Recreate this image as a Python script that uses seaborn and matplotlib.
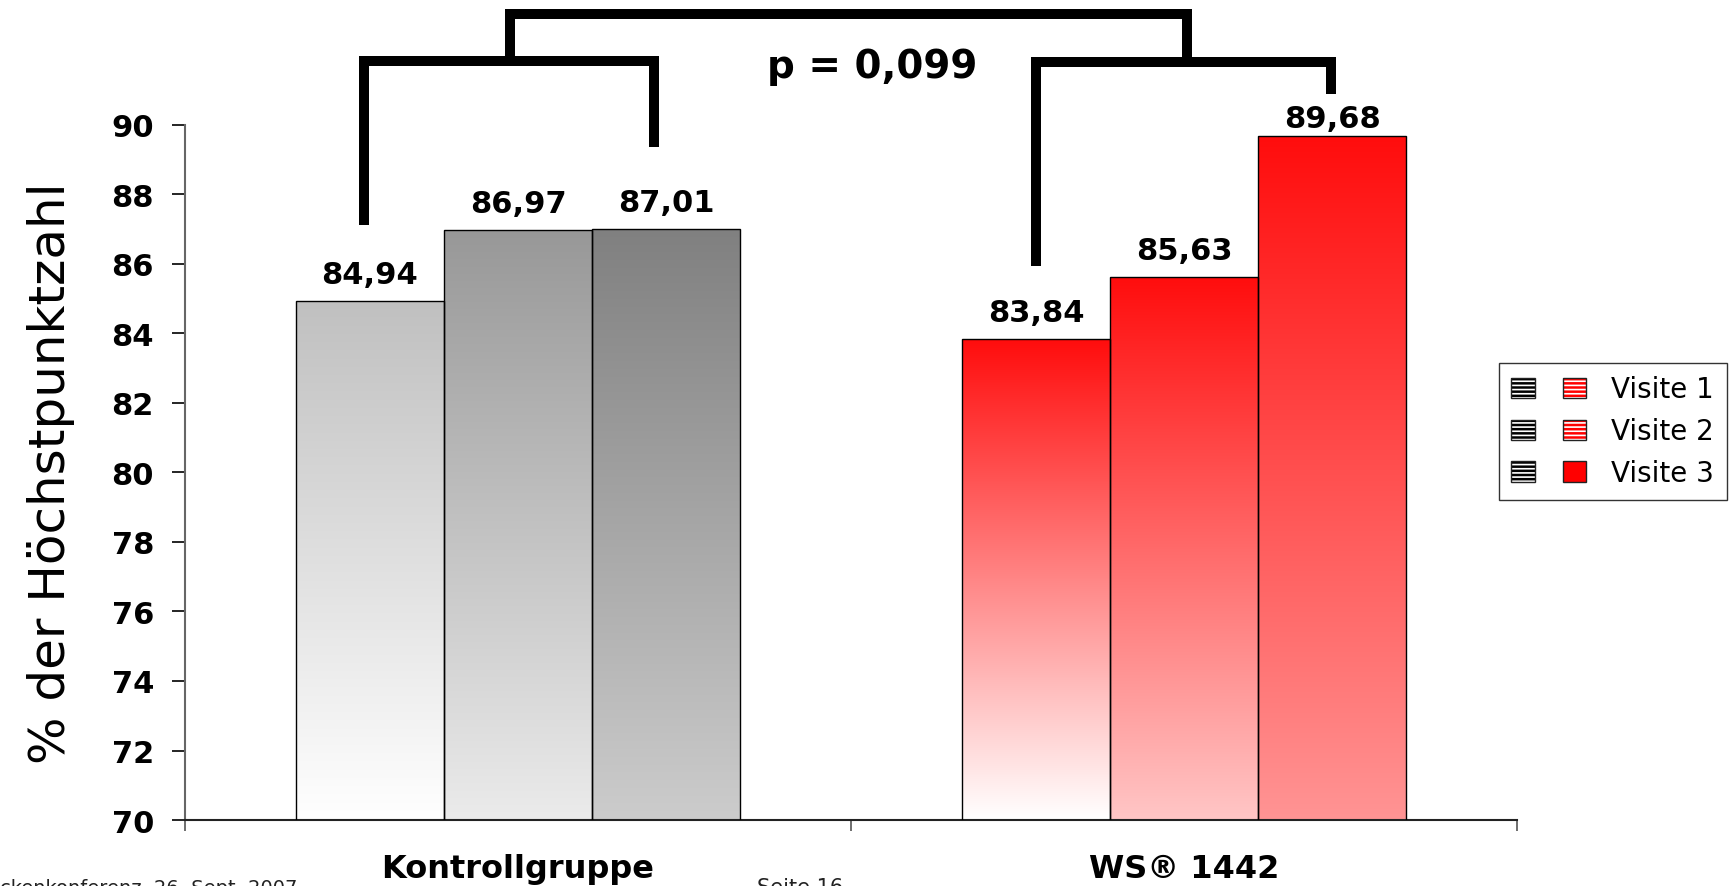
import numpy as np
import pandas as pd
import matplotlib
matplotlib.use("Agg")
import matplotlib.pyplot as plt
import seaborn as sns
from matplotlib.patches import Patch
from matplotlib.legend_handler import HandlerTuple
from matplotlib.colors import to_rgb

# ---------------- data ----------------
groups = ["Kontrollgruppe", "WS® 1442"]
visits = ["Visite 1", "Visite 2", "Visite 3"]
kontroll_values = [84.94, 86.97, 87.01]
ws_values = [83.84, 85.63, 89.68]
y_ticks = [70, 72, 74, 76, 78, 80, 82, 84, 86, 88, 90]
p_text = "p = 0,099"
ylabel = "% der Höchstpunktzahl"
footer_left = "ckenkonferenz, 26. Sept. 2007"
footer_right = "Seite 16"

# ---------------- style ----------------
sns.set_theme(style="ticks")
plt.rcParams["font.family"] = ["DejaVu Sans"]
plt.rcParams["patch.force_edgecolor"] = False
plt.rcParams["hatch.color"] = "white"
plt.rcParams["hatch.linewidth"] = 1.2
for k in ["text.color", "axes.labelcolor", "xtick.color", "ytick.color",
          "xtick.labelcolor", "ytick.labelcolor"]:
    plt.rcParams[k] = "black"

gradients = {
    ("Kontrollgruppe", "Visite 1"): ("#c0c0c0", "#ffffff"),
    ("Kontrollgruppe", "Visite 2"): ("#989898", "#ebebeb"),
    ("Kontrollgruppe", "Visite 3"): ("#808080", "#cccccc"),
    ("WS® 1442", "Visite 1"): ("#ff0d0d", "#ffffff"),
    ("WS® 1442", "Visite 2"): ("#ff0d0d", "#ffc6c6"),
    ("WS® 1442", "Visite 3"): ("#ff0d0d", "#ff9494"),
}

df = pd.DataFrame({
    "Gruppe": [g for g in groups for _ in visits],
    "Visite": visits * len(groups),
    "Wert": kontroll_values + ws_values,
})

fig = plt.figure(figsize=(17.31, 8.87), dpi=100)
ax = fig.add_axes([0.1069, 0.0744, 0.7695, 0.7836])

sns.barplot(data=df, x="Gruppe", y="Wert", hue="Visite", order=groups,
            hue_order=visits, width=0.667, errorbar=None, legend=False,
            edgecolor="black", linewidth=1.0, ax=ax, zorder=3)

YMIN, YMAX = 70, 90
label_offsets = {("WS® 1442", "Visite 3"): 9}
for vi, cont in enumerate(ax.containers):
    for gi, bar in enumerate(cont):
        key = (groups[gi], visits[vi])
        top_c, bot_c = gradients[key]
        grad = np.linspace(np.array(to_rgb(top_c)), np.array(to_rgb(bot_c)), 256)[:, None, :]
        x0 = bar.get_x()
        w = bar.get_width()
        h = bar.get_height()
        im = ax.imshow(grad, extent=[x0, x0 + w, YMIN, h], origin="upper",
                       aspect="auto", zorder=2, interpolation="bilinear")
        im.set_clip_path(bar)
        bar.set_facecolor("none")
        bar.set_zorder(3)
        off = label_offsets.get(key, 18)
        ax.annotate(f"{h:.2f}".replace(".", ","), xy=(x0 + w / 2, h),
                    xytext=(0, off), textcoords="offset pixels",
                    ha="center", va="baseline", fontsize=22,
                    fontweight="bold", color="black", annotation_clip=False)

ax.set_xlim(-0.5, 1.5)
ax.set_ylim(YMIN, YMAX)
ax.set_yticks(y_ticks)
ax.set_yticklabels([str(t) for t in y_ticks], fontsize=22, fontweight="bold",
                   color="black")
ax.tick_params(axis="y", length=9.4, width=1.2, pad=13, color="black")
ax.set_xticks([0, 1])
ax.set_xticklabels(groups, fontsize=23, fontweight="bold", color="black")
ax.tick_params(axis="x", which="major", length=0, pad=24)
ax.set_xticks([-0.5, 0.5, 1.5], minor=True)
ax.tick_params(axis="x", which="minor", length=8, width=1.2, color="#555555")
ax.set_xlabel("")
ax.set_ylabel(ylabel, fontsize=36, color="black")
ax.yaxis.set_label_coords(-0.0826, 0.5)

sns.despine(ax=ax)
ax.spines["left"].set_color("#666666")
ax.spines["left"].set_linewidth(1.5)
ax.spines["bottom"].set_color("#222222")
ax.spines["bottom"].set_linewidth(1.5)
ax.set_facecolor("white")

# ---------------- significance brackets ----------------
bk = dict(color="black", lw=7.2, clip_on=False, solid_joinstyle="miter",
          solid_capstyle="butt", zorder=5)
ax.plot([-0.231, -0.231, 0.2036, 0.2036], [87.12, 91.84, 91.84, 89.37], **bk)
ax.plot([0.778, 0.778, 1.2202, 1.2202], [85.94, 91.80, 91.80, 90.89], **bk)
ax.plot([-0.012, -0.012, 1.0045, 1.0045], [91.84, 93.18, 93.18, 91.80], **bk)
ax.text(0.5315, 91.38, p_text, ha="center", va="baseline", fontsize=28,
        fontweight="bold", color="black", clip_on=False)

# ---------------- legend ----------------
class Overlay(tuple):
    pass

def swatch(face, hatched):
    base = Patch(facecolor=face, edgecolor="white", linewidth=0,
                 hatch="----" if hatched else None)
    edge = Patch(facecolor="none", edgecolor="#222222", linewidth=1.0)
    return Overlay((base, edge))

handles = [
    (swatch("black", True), swatch("#ff0000", True)),
    (swatch("black", True), swatch("#ff0000", True)),
    (swatch("black", True), swatch("#ff0000", False)),
]
leg = fig.legend(handles, visits, loc="upper left",
                 bbox_to_anchor=(1499 / 1731, 1 - 364 / 887),
                 borderaxespad=0,
                 fontsize=20, handlelength=2.7, handleheight=0.75,
                 handletextpad=0.9, labelspacing=0.5, borderpad=0.45,
                 fancybox=False, framealpha=1, edgecolor="#333333",
                 handler_map={tuple: HandlerTuple(ndivide=None, pad=1.04),
                              Overlay: HandlerTuple(ndivide=1, pad=0)})
leg.get_frame().set_linewidth(1.0)
for t in leg.get_texts():
    t.set_color("black")

# ---------------- footer ----------------
fig.text(0.0, -0.008, footer_left, ha="left", va="baseline", fontsize=14,
         color="#222222")
fig.text(800 / 1731, -0.008, footer_right, ha="center", va="baseline",
         fontsize=15, color="#222222")

fig.savefig("out.png", dpi=100, facecolor="white")
